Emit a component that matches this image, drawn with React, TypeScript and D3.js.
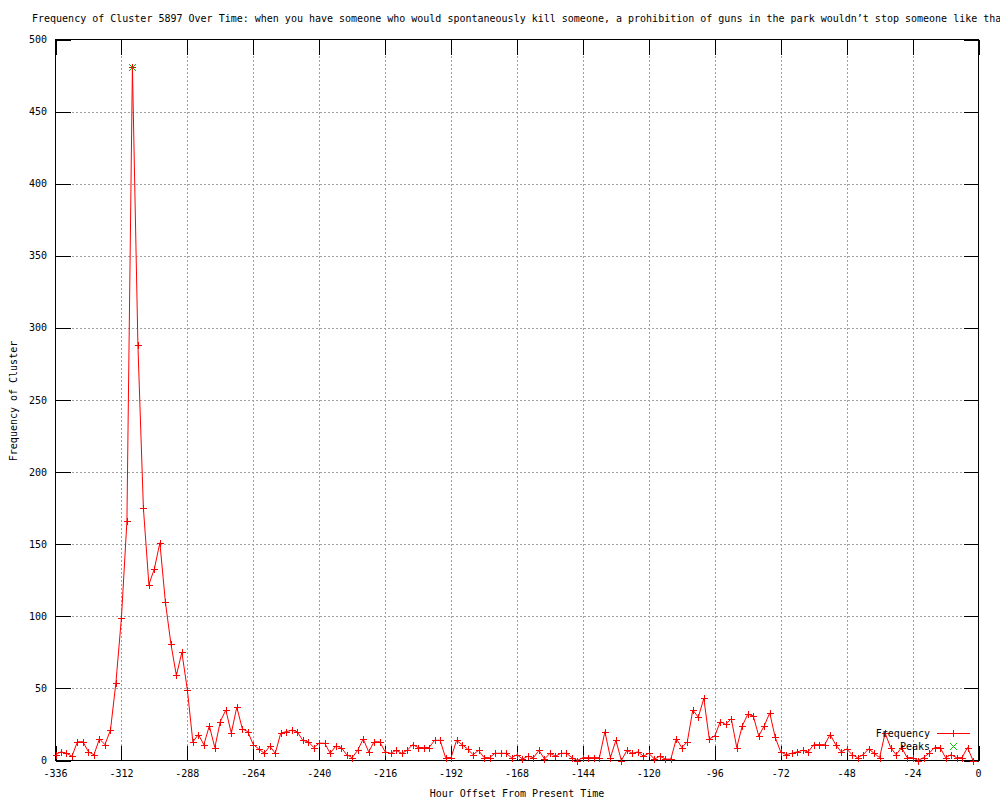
import React from "react";
import * as d3 from "d3";

const TITLE =
  "Frequency of Cluster 5897 Over Time: when you have someone who would spontaneously kill someone, a prohibition of guns in the park wouldn\u2019t stop someone like that";
const X_LABEL = "Hour Offset From Present Time";
const Y_LABEL = "Frequency of Cluster";

const hours: number[] = [
  -336, -334, -332, -330, -328, -326, -324, -322, -320, -318, -316, -314, -312, -310, -308, -306,
  -304, -302, -300, -298, -296, -294, -292, -290, -288, -286, -284, -282, -280, -278, -276, -274,
  -272, -270, -268, -266, -264, -262, -260, -258, -256, -254, -252, -250, -248, -246, -244, -242,
  -240, -238, -236, -234, -232, -230, -228, -226, -224, -222, -220, -218, -216, -214, -212, -210,
  -208, -206, -204, -202, -200, -198, -196, -194, -192, -190, -188, -186, -184, -182, -180, -178,
  -176, -174, -172, -170, -168, -166, -164, -162, -160, -158, -156, -154, -152, -150, -148, -146,
  -144, -142, -140, -138, -136, -134, -132, -130, -128, -126, -124, -122, -120, -118, -116, -114,
  -112, -110, -108, -106, -104, -102, -100, -98, -96, -94, -92, -90, -88, -86, -84, -82,
  -80, -78, -76, -74, -72, -70, -68, -66, -64, -62, -60, -58, -56, -54, -52, -50,
  -48, -46, -44, -42, -40, -38, -36, -34, -32, -30, -28, -26, -24, -22, -20, -18,
  -16, -14, -12, -10, -8, -6, -4, -2,
];

const frequency: number[] = [
  4, 6, 5, 3, 13, 13, 6, 4, 15, 11, 21, 54, 99, 166, 481, 288,
  175, 122, 133, 151, 110, 81, 59, 75, 49, 13, 18, 11, 24, 9, 27, 35,
  19, 37, 22, 20, 11, 8, 5, 10, 5, 19, 20, 21, 20, 14, 13, 9,
  12, 12, 5, 10, 9, 4, 2, 7, 15, 6, 13, 13, 6, 5, 7, 5,
  7, 11, 9, 9, 9, 14, 14, 2, 2, 14, 11, 8, 4, 7, 2, 2,
  5, 5, 5, 2, 4, 1, 3, 2, 7, 1, 5, 3, 5, 5, 2, 0,
  2, 2, 2, 2, 20, 2, 14, 0, 7, 5, 6, 3, 5, 1, 3, 1,
  1, 15, 9, 13, 35, 30, 43, 15, 17, 27, 25, 29, 9, 24, 32, 31,
  17, 24, 33, 16, 6, 4, 5, 6, 7, 6, 11, 11, 11, 18, 11, 6,
  8, 4, 2, 4, 8, 5, 2, 19, 9, 4, 9, 2, 2, 0, 2, 5,
  9, 9, 2, 4, 2, 2, 9, 0,
];

const peakHours: number[] = [-308];
const peakValues: number[] = [481];

const xTicks: number[] = [-336, -312, -288, -264, -240, -216, -192, -168, -144, -120, -96, -72, -48, -24, 0];
const yTicks: number[] = [0, 50, 100, 150, 200, 250, 300, 350, 400, 450, 500];

const FONT = "'DejaVu Sans Mono', 'Liberation Mono', monospace";
const RED = "#ff0000";
const GREEN = "#00c000";

export default function App() {
  const left = 55.5;
  const right = 978.5;
  const top = 39.5;
  const bottom = 760.5;
  const x = d3.scaleLinear().domain([-336, 0]).range([left, right]);
  const y = d3.scaleLinear().domain([0, 500]).range([bottom, top]);
  const tick = 15;

  const pts = hours.map((h, i) => [x(h), y(frequency[i])] as [number, number]);
  const pathD = d3.line()(pts) || "";

  const plus = (cx: number, cy: number, color: string, key: string) => {
    const px = Math.round(cx) + 0.5;
    const py = Math.round(cy) + 0.5;
    return (
      <g key={key}>
        <line x1={px - 3.5} x2={px + 3.5} y1={py} y2={py} stroke={color} strokeWidth={1} />
        <line x1={px} x2={px} y1={py - 3.5} y2={py + 3.5} stroke={color} strokeWidth={1} />
      </g>
    );
  };
  const cross = (cx: number, cy: number, color: string, key: string) => {
    const px = Math.round(cx) + 0.5;
    const py = Math.round(cy) + 0.5;
    return (
      <g key={key}>
        <line x1={px - 3.5} x2={px + 3.5} y1={py - 3.5} y2={py + 3.5} stroke={color} strokeWidth={1} />
        <line x1={px - 3.5} x2={px + 3.5} y1={py + 3.5} y2={py - 3.5} stroke={color} strokeWidth={1} />
      </g>
    );
  };

  return (
    <svg
      width={1000}
      height={800}
      style={{ position: "absolute", left: 0, top: 0, background: "#fff" }}
      fontFamily={FONT}
      fontSize={10}
    >
      <rect x={0} y={0} width={1000} height={800} fill="#fff" />
      {/* grid */}
      <g stroke="#a0a0a0" strokeWidth={1} strokeDasharray="2,2" shapeRendering="crispEdges">
        {xTicks.slice(1, -1).map((t) => (
          <line key={"gx" + t} x1={Math.round(x(t)) + 0.5} x2={Math.round(x(t)) + 0.5} y1={top} y2={bottom} />
        ))}
        {yTicks.slice(1, -1).map((t) => (
          <line key={"gy" + t} x1={left} x2={right} y1={Math.round(y(t)) + 0.5} y2={Math.round(y(t)) + 0.5} />
        ))}
      </g>
      {/* ticks */}
      <g stroke="#000" strokeWidth={1} shapeRendering="crispEdges">
        {xTicks.map((t) => {
          const px = Math.round(x(t)) + 0.5;
          return (
            <g key={"tx" + t}>
              <line x1={px} x2={px} y1={bottom} y2={bottom - tick} />
              <line x1={px} x2={px} y1={top} y2={top + tick} />
            </g>
          );
        })}
        {yTicks.map((t) => {
          const py = Math.round(y(t)) + 0.5;
          return (
            <g key={"ty" + t}>
              <line x1={left} x2={left + tick} y1={py} y2={py} />
              <line x1={right} x2={right - tick} y1={py} y2={py} />
            </g>
          );
        })}
        <rect x={left} y={top} width={right - left} height={bottom - top} fill="none" />
      </g>
      {/* tick labels */}
      <g fill="#000">
        {xTicks.map((t) => (
          <text key={"lx" + t} x={x(t)} y={777} textAnchor="middle">
            {t}
          </text>
        ))}
        {yTicks.map((t) => (
          <text key={"ly" + t} x={47} y={y(t) + 3.5} textAnchor="end">
            {t}
          </text>
        ))}
      </g>
      <text x={32} y={22} fill="#000">
        {TITLE}
      </text>
      <text x={517} y={797} textAnchor="middle" fill="#000">
        {X_LABEL}
      </text>
      <text transform="translate(17,401) rotate(-90)" textAnchor="middle" fill="#000">
        {Y_LABEL}
      </text>
      {/* data */}
      <path d={pathD} fill="none" stroke={RED} strokeWidth={1} />
      {hours.map((h, i) => plus(x(h), y(frequency[i]), RED, "p" + i))}
      {peakHours.map((h, i) => cross(x(h), y(peakValues[i]), GREEN, "k" + i))}
      {/* legend */}
      <text x={930} y={737} textAnchor="end" fill="#000">
        Frequency
      </text>
      <line x1={937} x2={970} y1={733.5} y2={733.5} stroke={RED} strokeWidth={1} shapeRendering="crispEdges" />
      {plus(953, 733, RED, "legp")}
      <text x={930} y={750} textAnchor="end" fill="#000">
        Peaks
      </text>
      {cross(953, 746, GREEN, "legk")}
    </svg>
  );
}
